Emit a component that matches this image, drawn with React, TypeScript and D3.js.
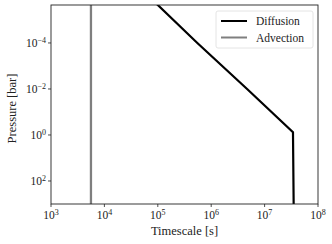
import { useEffect, useRef } from "react";
import * as d3 from "d3";

const diffusionPressure = [10 ** -5.7, 1e-4, 1e-2, 0.75, 1e3];
const diffusionTime = [9.5e4, 5.5e5, 4.7e6, 3.4e7, 3.5e7];
const advectionPressure = [10 ** -5.7, 1e3];
const advectionTime = [5.6e3, 5.6e3];
const xTicks = [3, 4, 5, 6, 7, 8];
const yTicks = [-4, -2, 0, 2];
const seriesNames = ["Diffusion", "Advection"];
const seriesColors = ["#000000", "#7f7f7f"];

const font = "'Liberation Serif', 'DejaVu Serif', serif";

export default function App() {
  const svgRef = useRef<SVGSVGElement | null>(null);
  const width = 332;
  const height = 244;
  const margin = { top: 5, right: 14, bottom: 40, left: 51 };

  useEffect(() => {
    if (!svgRef.current) return;
    const svg = d3.select(svgRef.current);
    svg.selectAll("*").remove();

    const x = d3
      .scaleLog()
      .domain([1e3, 1e8])
      .range([margin.left, width - margin.right]);
    const y = d3
      .scaleLog()
      .domain([10 ** -5.65, 1e3])
      .range([margin.top, height - margin.bottom]);

    svg.append("rect").attr("width", width).attr("height", height).attr("fill", "#fff");

    const clipId = "plot-clip";
    svg
      .append("clipPath")
      .attr("id", clipId)
      .append("rect")
      .attr("x", margin.left)
      .attr("y", margin.top)
      .attr("width", width - margin.left - margin.right)
      .attr("height", height - margin.top - margin.bottom);

    const line = d3
      .line<[number, number]>()
      .x((d) => x(d[0]))
      .y((d) => y(d[1]));

    const plot = svg.append("g").attr("clip-path", `url(#${clipId})`);
    plot
      .append("path")
      .attr("d", line(advectionTime.map((t, i) => [t, advectionPressure[i]])))
      .attr("fill", "none")
      .attr("stroke", seriesColors[1])
      .attr("stroke-width", 2.3);
    plot
      .append("path")
      .attr("d", line(diffusionTime.map((t, i) => [t, diffusionPressure[i]])))
      .attr("fill", "none")
      .attr("stroke", seriesColors[0])
      .attr("stroke-width", 2.2);

    // frame
    svg
      .append("rect")
      .attr("x", margin.left)
      .attr("y", margin.top)
      .attr("width", width - margin.left - margin.right)
      .attr("height", height - margin.top - margin.bottom)
      .attr("fill", "none")
      .attr("stroke", "#222")
      .attr("stroke-width", 0.9);

    const y0 = height - margin.bottom;
    // x ticks
    xTicks.forEach((e) => {
      const px = x(10 ** e);
      svg
        .append("line")
        .attr("x1", px)
        .attr("x2", px)
        .attr("y1", y0)
        .attr("y2", y0 + 3)
        .attr("stroke", "#222")
        .attr("stroke-width", 0.8);
      const t = svg
        .append("text")
        .attr("x", px)
        .attr("y", y0 + 15)
        .attr("text-anchor", "middle")
        .attr("font-family", font)
        .attr("font-size", 11.5)
        .attr("fill", "#222");
      t.append("tspan").text("10");
      t.append("tspan").attr("dy", -4).attr("font-size", 8).text(String(e));
    });

    // y ticks
    yTicks.forEach((e) => {
      const py = y(10 ** e);
      svg
        .append("line")
        .attr("x1", margin.left - 3)
        .attr("x2", margin.left)
        .attr("y1", py)
        .attr("y2", py)
        .attr("stroke", "#222")
        .attr("stroke-width", 0.8);
      const t = svg
        .append("text")
        .attr("x", margin.left - 5)
        .attr("y", py + 4)
        .attr("text-anchor", "end")
        .attr("font-family", font)
        .attr("font-size", 11.5)
        .attr("fill", "#222");
      t.append("tspan").text("10");
      t.append("tspan").attr("dy", -4).attr("font-size", 8).text(e < 0 ? `\u2212${-e}` : String(e));
    });

    svg
      .append("text")
      .attr("x", (margin.left + width - margin.right) / 2)
      .attr("y", height - 9)
      .attr("text-anchor", "middle")
      .attr("font-family", font)
      .attr("font-size", 12.5)
      .attr("fill", "#222")
      .text("Timescale [s]");

    svg
      .append("text")
      .attr("transform", `translate(16, ${(margin.top + height - margin.bottom) / 2 + 4}) rotate(-90)`)
      .attr("text-anchor", "middle")
      .attr("font-family", font)
      .attr("font-size", 12.5)
      .attr("fill", "#222")
      .text("Pressure [bar]");

    // legend
    const lg = svg.append("g");
    lg.append("rect")
      .attr("x", 216)
      .attr("y", 11)
      .attr("width", 97)
      .attr("height", 37)
      .attr("rx", 2)
      .attr("fill", "#fff")
      .attr("stroke", "#ddd")
      .attr("stroke-width", 0.8);
    seriesNames.forEach((name, i) => {
      const ly = 21 + i * 16.5;
      lg.append("line")
        .attr("x1", 221)
        .attr("x2", 247)
        .attr("y1", ly)
        .attr("y2", ly)
        .attr("stroke", seriesColors[i])
        .attr("stroke-width", 2);
      lg.append("text")
        .attr("x", 256)
        .attr("y", ly + 4)
        .attr("font-family", font)
        .attr("font-size", 11.5)
        .attr("fill", "#222")
        .text(name);
    });
  }, []);

  return (
    <svg
      ref={svgRef}
      width={width}
      height={height}
      style={{ position: "absolute", left: 0, top: 0 }}
    />
  );
}
